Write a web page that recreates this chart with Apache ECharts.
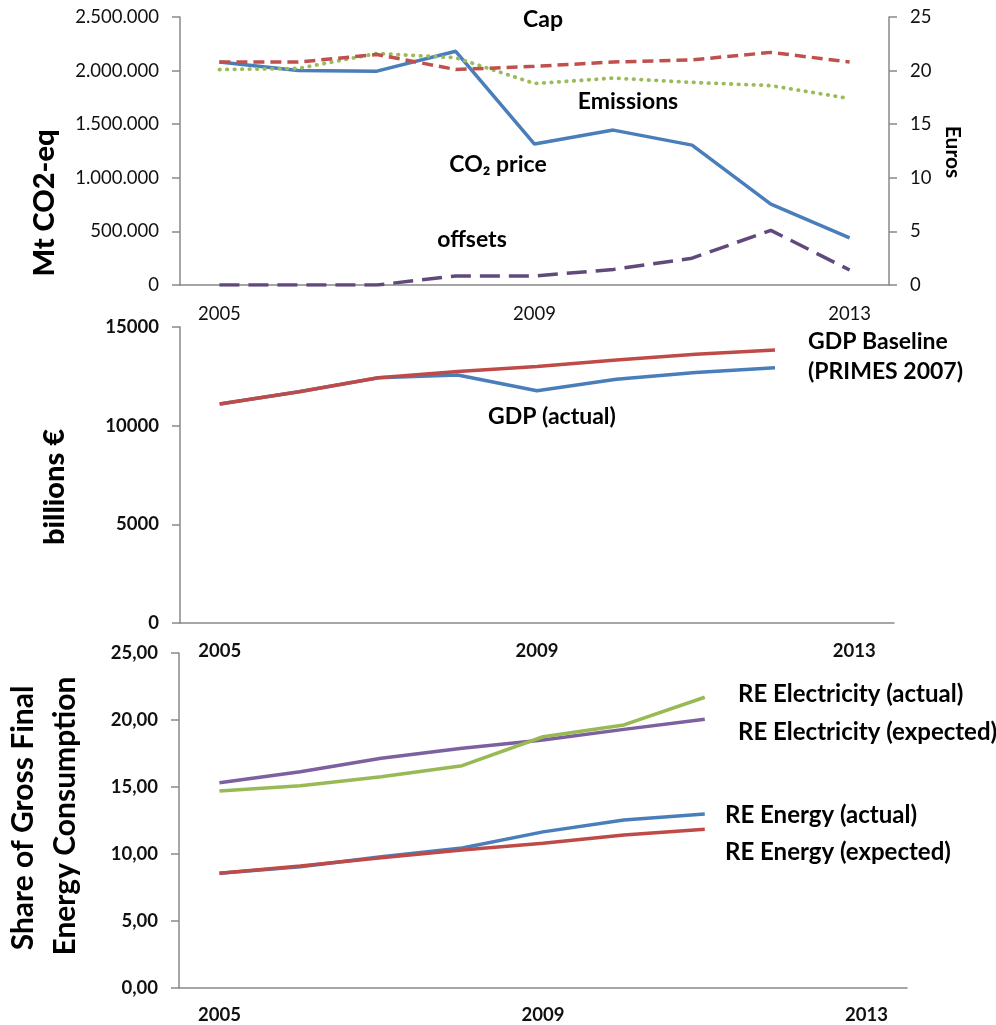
<!DOCTYPE html>
<html><head><meta charset="utf-8">
<script src="https://cdn.jsdelivr.net/npm/echarts@6/dist/echarts.min.js"></script>
<style>html,body{margin:0;padding:0;background:#fff}#c{width:996px;height:1025px}</style>
</head><body><div id="c"></div>
<script>
var years = ['2005','2006','2007','2008','2009','2010','2011','2012','2013'];
// Panel 1 (Mt CO2-eq, Euros)
var cap       = [2080000,2080000,2150000,2010000,2040000,2080000,2100000,2170000,2080000];
var emissions = [2010000,2020000,2160000,2120000,1880000,1930000,1890000,1860000,1740000];
var offsets   = [0,0,0,84000,84000,145000,250000,510000,140000];
var co2Price  = [20.8,20.0,19.95,21.8,13.15,14.45,13.05,7.55,4.4];
// Panel 2 (billions €)
var gdpActual   = [11100,11720,12430,12570,11770,12350,12690,12940,null];
var gdpBaseline = [11100,11720,12430,12740,13000,13330,13620,13840,null];
// Panel 3 (share of gross final energy consumption)
var reElecActual   = [14.7,15.1,15.77,16.59,18.75,19.63,21.7,null,null];
var reElecExpected = [15.32,16.14,17.14,17.89,18.5,19.3,20.05,null,null];
var reEnActual     = [8.56,9.05,9.8,10.45,11.65,12.54,12.99,null,null];
var reEnExpected   = [8.56,9.1,9.72,10.3,10.8,11.42,11.84,null,null];

var F = 'Lato, "Open Sans", sans-serif';
var axisCol = '#898989';
function dotFmt(v){ return String(v).replace(/\B(?=(\d{3})+(?!\d))/g,'.'); }
function commaFmt(v){ return v.toFixed(2).replace('.',','); }
function plainFmt(v){ return String(v); }

function xAx(gi, bold, margin){
  return {type:'category', gridIndex:gi, data:years, boundaryGap:true,
    axisLine:{lineStyle:{color:axisCol,width:1.5}},
    axisTick:{interval:0,length:8,lineStyle:{color:axisCol,width:1.5}},
    axisLabel:{interval:3,margin:margin,fontFamily:F,fontSize:18.5,color:'#111',fontWeight:bold?'bold':'normal'},
    splitLine:{show:false}};
}
function yAx(gi, max, itv, fmt, bold, pos){
  return {type:'value', gridIndex:gi, min:0, max:max, interval:itv, position:pos||'left',
    axisLine:{show:true,lineStyle:{color:axisCol,width:1.5}},
    axisTick:{show:true,length:8,lineStyle:{color:axisCol,width:1.5}},
    axisLabel:{margin:21,fontFamily:F,fontSize:18.5,color:'#111',fontWeight:bold?'bold':'normal',formatter:fmt},
    splitLine:{show:false}};
}
function ln(name, data, xi, yi, color, type, w, cap){
  return {name:name, type:'line', data:data, xAxisIndex:xi, yAxisIndex:yi, symbol:'none', connectNulls:false,
    lineStyle:{color:color,width:w||3,type:type||'solid',cap:cap||'butt'}, silent:true, animation:false};
}
function txt(t, x, y, opt){
  opt = opt||{};
  return {type:'text', x:x, y:y, rotation:opt.rot||0, silent:true,
    style:{text:t, fill:'#000', font:(opt.weight||'bold')+' '+(opt.size||23)+'px '+F,
      align:opt.align||'left', verticalAlign:'middle'}};
}

var chart = echarts.init(document.getElementById('c'), null, {renderer:'canvas'});
chart.setOption({
  animation:false,
  backgroundColor:'#fff',
  grid:[
    {left:180, top:17, width:709, height:268},
    {left:180, top:327, width:714, height:296},
    {left:179, top:653, width:728, height:335}
  ],
  xAxis:[xAx(0,false,20), xAx(1,true,19), xAx(2,true,18)],
  yAxis:[
    yAx(0,2500000,500000,dotFmt,false),
    yAx(0,25,5,plainFmt,false,'right'),
    yAx(1,15000,5000,plainFmt,true),
    yAx(2,25,5,commaFmt,true)
  ],
  series:[
    ln('CO2 price', co2Price, 0, 1, '#4A7EBB', 'solid', 3.5),
    ln('Emissions', emissions, 0, 0, '#9BBB59', [0.5,7], 3.8, 'round'),
    ln('Cap', cap, 0, 0, '#C0504D', [11,6], 3.5),
    ln('offsets', offsets, 0, 0, '#604A7B', [20,9], 3.5),
    ln('GDP (actual)', gdpActual, 1, 2, '#4A7EBB', 'solid', 3.5),
    ln('GDP Baseline', gdpBaseline, 1, 2, '#BE4B48', 'solid', 3.5),
    ln('RE Energy (actual)', reEnActual, 2, 3, '#4A7EBB', 'solid', 3.5),
    ln('RE Energy (expected)', reEnExpected, 2, 3, '#BE4B48', 'solid', 3.5),
    ln('RE Electricity (expected)', reElecExpected, 2, 3, '#7D60A0', 'solid', 3.5),
    ln('RE Electricity (actual)', reElecActual, 2, 3, '#98B954', 'solid', 3.5)
  ],
  graphic:[
    txt('Mt CO2-eq', 45, 203, {rot:Math.PI/2, size:29, align:'center', weight:'900'}),
    txt('Euros', 953, 152, {rot:-Math.PI/2, size:21, align:'center'}),
    txt('billions €', 55, 487, {rot:Math.PI/2, size:29, align:'center', weight:'900'}),
    txt('Share of Gross Final', 23, 818, {rot:Math.PI/2, size:30, align:'center'}),
    txt('Energy Consumption', 65, 816, {rot:Math.PI/2, size:30, align:'center'}),
    txt('Cap', 543, 20, {align:'center'}),
    txt('Emissions', 628, 102, {align:'center'}),
    txt('CO₂ price', 498, 165, {align:'center'}),
    txt('offsets', 472, 240, {align:'center'}),
    txt('GDP (actual)', 488, 417),
    txt('GDP Baseline', 808, 342),
    txt('(PRIMES 2007)', 808, 372),
    txt('RE Electricity (actual)', 738, 694, {size:24}),
    txt('RE Electricity (expected)', 738, 732, {size:24}),
    txt('RE Energy (actual)', 725, 815, {size:24}),
    txt('RE Energy (expected)', 725, 852, {size:24})
  ]
});
</script></body></html>
